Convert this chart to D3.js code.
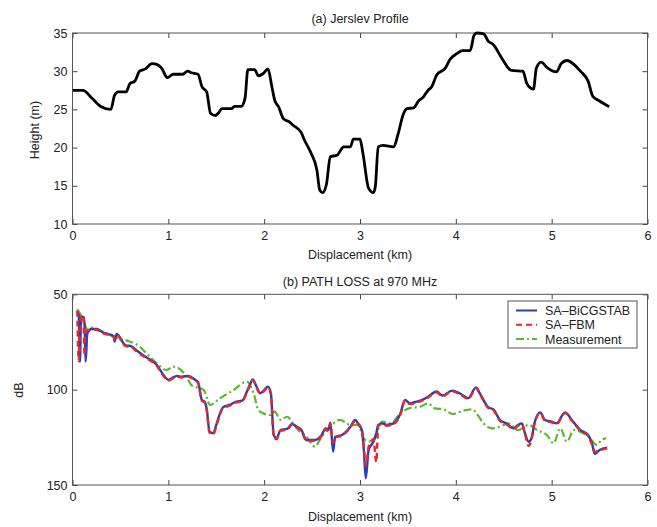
<!DOCTYPE html>
<html>
<head>
<meta charset="utf-8">
<script src="https://cdn.jsdelivr.net/npm/d3@7"></script>
<style>
  body { margin: 0; background: #fff; }
  svg text { font-family: "Liberation Sans", Arial, sans-serif; fill: #222; }
  .axis path { display: none; }
  .axis line { stroke: #444; }
  .axis text { font-size: 12.5px; fill: #222; }
</style>
</head>
<body>
<svg id="chart" width="657" height="527"></svg>
<script>
// (a) terrain profile
var profileKm = [0,0.11,0.20,0.30,0.40,0.44,0.48,0.56,0.60,0.65,0.70,0.76,0.83,0.88,0.93,0.99,1.05,1.15,1.20,1.24,1.31,1.35,1.40,1.44,1.49,1.52,1.56,1.66,1.69,1.76,1.80,1.83,1.90,1.94,1.99,2.04,2.08,2.11,2.15,2.20,2.27,2.30,2.39,2.42,2.49,2.55,2.58,2.61,2.65,2.69,2.76,2.83,2.90,2.93,3.00,3.03,3.09,3.14,3.16,3.19,3.24,3.35,3.40,3.45,3.49,3.56,3.61,3.66,3.71,3.75,3.80,3.89,3.94,4.01,4.07,4.15,4.19,4.22,4.29,4.34,4.39,4.48,4.58,4.70,4.74,4.78,4.81,4.84,4.89,4.95,5.05,5.10,5.16,5.24,5.30,5.38,5.43,5.50,5.60];
var profileHeight = [27.5,27.5,26.5,25.35,25.0,26.9,27.3,27.3,28.4,28.7,30.0,30.3,31.0,30.9,30.4,29.15,29.6,29.6,30.0,29.8,29.6,28.0,27.3,24.5,24.2,24.5,25.1,25.1,25.4,25.4,26.45,30.2,30.2,29.4,29.7,30.3,28.0,26.2,25.35,23.8,23.3,22.95,21.9,21.0,19.25,17.07,14.45,14.1,15.2,18.8,19.0,20.1,20.1,21.1,21.1,19.3,14.67,14.1,14.9,20.1,20.3,20.1,21.9,24.3,25.1,25.2,26.1,26.6,27.5,28.0,29.5,30.4,31.55,32.3,32.7,32.7,34.7,35,34.9,33.9,33.5,31.7,30.1,30.0,28.4,27.8,27.65,30.4,31.2,30.5,29.9,31.0,31.4,30.8,30.0,28.7,26.7,26.1,25.35];

// (b) path loss, both simulations share one distance grid
var simKm = [0.05,0.065,0.078,0.09,0.115,0.125,0.137,0.155,0.20,0.25,0.32,0.43,0.44,0.46,0.55,0.62,0.67,0.77,0.88,0.95,1.00,1.035,1.09,1.14,1.21,1.28,1.31,1.35,1.38,1.40,1.43,1.47,1.50,1.57,1.64,1.71,1.77,1.82,1.85,1.88,1.92,1.96,2.00,2.04,2.07,2.10,2.13,2.17,2.24,2.29,2.34,2.39,2.44,2.53,2.60,2.64,2.67,2.69,2.72,2.74,2.81,2.90,2.95,2.98,3.02,3.04,3.06,3.09,3.14,3.17,3.19,3.23,3.28,3.35,3.42,3.47,3.52,3.59,3.66,3.71,3.80,3.86,3.96,4.04,4.13,4.21,4.25,4.34,4.39,4.46,4.53,4.60,4.65,4.69,4.72,4.76,4.79,4.82,4.88,4.93,5.00,5.05,5.14,5.21,5.30,5.38,5.42,5.45,5.50,5.58];
var bicgstabDb = [59.1,61.0,85.3,61.7,62.0,65,85.3,70.5,68.2,68.2,70.1,71.9,74.8,70.8,76.6,77.4,79.5,83.0,87.1,92.3,94.9,94.1,92.8,93.2,92.8,94.9,96,105.4,106.3,110,122.0,122.9,118.5,109.3,108.0,106.3,105.8,101.0,97.6,94.6,98.4,101.9,100.2,98.4,101.9,123.8,125.5,121.2,120.6,118.0,119.4,121.2,126.4,126.4,123.8,120.3,121.2,117.3,132.5,124.7,123.8,119.4,115.9,117.7,121.2,131.6,146.5,131.6,127.3,122.9,118.5,117.7,118.5,117.7,112.8,105.4,107.2,106.3,105.1,103.7,101.0,103.1,100.5,101.9,104.5,98.8,101.9,109.3,110.3,115.9,117.7,120.3,118.5,117.7,122.6,127.3,125.5,117.7,111.9,115.9,116.8,117.7,111.9,115.9,121.2,123.8,128.1,133.7,131.6,130.4];
var fbmDb = [58.5,85,70,61,62,82,70,69,68.5,68.6,70.5,72.3,73.5,71.2,77.0,77.8,80.0,83.5,87.5,92.8,95.3,94.4,93.2,93.6,93.2,95.3,96.5,105.8,106.8,110.5,122.5,123.4,119.0,109.8,108.4,106.7,106.2,101.4,98.0,95.0,98.8,102.3,100.6,98.8,102.3,125.0,126.0,121.6,121.0,118.4,119.8,121.6,126.8,126.8,124.2,120.7,121.6,117.7,128.0,125.1,124.2,119.8,116.3,118.1,121.6,130.0,140.0,130.0,126.0,138.0,119.0,118.1,118.9,118.1,113.2,105.8,107.6,106.7,105.5,104.1,101.4,103.5,100.9,102.3,104.9,99.2,102.3,109.7,110.7,116.3,118.1,120.7,118.9,118.1,123.0,129.5,126.0,118.1,112.3,116.3,117.2,118.1,112.3,116.3,121.6,124.2,128.8,132.5,131.8,130.8];

// measurement
var measKm = [0.05,0.09,0.165,0.20,0.32,0.44,0.57,0.70,0.77,0.88,0.98,1.05,1.19,1.24,1.37,1.435,1.54,1.68,1.82,1.89,1.94,1.99,2.06,2.11,2.17,2.24,2.30,2.37,2.44,2.53,2.58,2.65,2.72,2.79,2.90,2.98,3.03,3.09,3.16,3.23,3.32,3.42,3.51,3.63,3.71,3.78,3.87,3.97,4.08,4.17,4.22,4.29,4.38,4.46,4.55,4.65,4.76,4.85,4.95,5.02,5.09,5.16,5.23,5.33,5.40,5.47,5.52,5.57];
var measDb = [57.9,61,68.7,67.5,69.6,72.6,74.3,77.4,80.9,86.2,89.7,87.9,93.2,97.6,100.2,108.0,104.5,100.2,95.8,101.9,110.7,112.4,113.3,111.5,115.9,114.2,117.7,122.0,124.7,129.9,126.4,121.2,117.7,115.9,118.5,118.5,124.7,127.3,124.7,116.8,117.7,112.4,109.8,108.9,107.2,109.8,110.3,112.8,111.0,110.3,112.8,117.7,120.3,119.4,117.7,121.2,118.5,121.2,123.8,128.1,120.3,127.3,121.2,122.9,125.5,129.0,126.4,125.5];

var xTicks = [0,1,2,3,4,5,6];
var heightTicks = [10,15,20,25,30,35];
var dbTicks = [50,100,150];
var legendNames = ["SA\u2013BiCGSTAB", "SA\u2013FBM", "Measurement"];

// Axes boxes
var left = 72.5, right = 647.5;
var topA = 33, bottomA = 224;
var topB = 294.3, bottomB = 485;

var svg = d3.select("#chart");

var x = d3.scaleLinear().domain([0, 6]).range([left, right]);
var yA = d3.scaleLinear().domain([10, 35]).range([bottomA, topA]);
var yB = d3.scaleLinear().domain([50, 150]).range([topB, bottomB]);

function drawFrame(y, ticksY, yTop, yBottom) {
    // bottom axis with labels
    svg.append("g").attr("class", "axis")
        .attr("transform", "translate(0," + yBottom + ")")
        .call(d3.axisBottom(x).tickValues(xTicks).tickSizeInner(-5).tickSizeOuter(0).tickPadding(7).tickFormat(d3.format("d")));
    // top axis ticks only
    svg.append("g").attr("class", "axis")
        .attr("transform", "translate(0," + yTop + ")")
        .call(d3.axisTop(x).tickValues(xTicks).tickSizeInner(-5).tickSizeOuter(0).tickFormat(""));
    svg.append("g").attr("class", "axis")
        .attr("transform", "translate(" + left + ",0)")
        .call(d3.axisLeft(y).tickValues(ticksY).tickSizeInner(-5).tickSizeOuter(0).tickPadding(5).tickFormat(d3.format("d")));
    svg.append("g").attr("class", "axis")
        .attr("transform", "translate(" + right + ",0)")
        .call(d3.axisRight(y).tickValues(ticksY).tickSizeInner(-5).tickSizeOuter(0).tickFormat(""));
    svg.append("rect")
        .attr("x", left).attr("y", yTop)
        .attr("width", right - left).attr("height", yBottom - yTop)
        .attr("fill", "none").attr("stroke", "#555").attr("stroke-width", 1);
}

drawFrame(yA, heightTicks, topA, bottomA);
drawFrame(yB, dbTicks, topB, bottomB);

// titles and labels
svg.append("text").attr("x", 360).attr("y", 22.5).attr("text-anchor", "middle")
    .style("font-size", "12.5px").text("(a) Jerslev Profile");
svg.append("text").attr("x", 360).attr("y", 259).attr("text-anchor", "middle")
    .style("font-size", "12.5px").text("Displacement (km)");
svg.append("text").attr("transform", "translate(39,130) rotate(-90)").attr("text-anchor", "middle")
    .style("font-size", "12.5px").text("Height (m)");

svg.append("text").attr("x", 360).attr("y", 286).attr("text-anchor", "middle")
    .style("font-size", "12.5px").text("(b) PATH LOSS at 970 MHz");
svg.append("text").attr("x", 360).attr("y", 521).attr("text-anchor", "middle")
    .style("font-size", "12.5px").text("Displacement (km)");
svg.append("text").attr("transform", "translate(23,390) rotate(-90)").attr("text-anchor", "middle")
    .style("font-size", "12.5px").text("dB");

// clip paths
svg.append("clipPath").attr("id", "clipA").append("rect")
    .attr("x", left).attr("y", topA - 2).attr("width", right - left).attr("height", bottomA - topA + 2);
svg.append("clipPath").attr("id", "clipB").append("rect")
    .attr("x", left).attr("y", topB).attr("width", right - left).attr("height", bottomB - topB);

// terrain line
var lineA = d3.line()
    .x(function(d, i) { return x(profileKm[i]); })
    .y(function(d) { return yA(d); })
    .curve(d3.curveMonotoneX);

svg.append("path")
    .attr("clip-path", "url(#clipA)")
    .attr("d", lineA(profileHeight))
    .attr("fill", "none").attr("stroke", "#000").attr("stroke-width", 2.8)
    .attr("stroke-linejoin", "round");

// path loss lines
function lossLine(kms) {
    return d3.line()
        .x(function(d, i) { return x(kms[i]); })
        .y(function(d) { return yB(d); })
        .curve(d3.curveMonotoneX);
}

var series = [
    {vals: measDb, kms: measKm, color: "#5cb82e", dash: "8,3,2,3", width: 2.2},
    {vals: bicgstabDb, kms: simKm, color: "#2b3fb5", dash: null, width: 2.4},
    {vals: fbmDb, kms: simKm, color: "#e8262b", dash: "6,4", width: 2.4}
];

series.forEach(function(s) {
    svg.append("path")
        .attr("clip-path", "url(#clipB)")
        .attr("d", lossLine(s.kms)(s.vals))
        .attr("fill", "none").attr("stroke", s.color).attr("stroke-width", s.width)
        .attr("stroke-dasharray", s.dash)
        .attr("stroke-linejoin", "round");
});

// legend
var legend = svg.append("g").attr("transform", "translate(508,301)");
legend.append("rect").attr("width", 129).attr("height", 47)
    .attr("fill", "#fff").attr("stroke", "#555").attr("stroke-width", 1);

var legendStyle = [
    {color: "#2b3fb5", dash: null},
    {color: "#e8262b", dash: "6,4"},
    {color: "#5cb82e", dash: "8,3,2,3"}
];

legendNames.forEach(function(name, i) {
    var ly = 9.5 + i * 14.3;
    legend.append("line")
        .attr("x1", 8).attr("x2", 29).attr("y1", ly).attr("y2", ly)
        .attr("stroke", legendStyle[i].color).attr("stroke-width", 2)
        .attr("stroke-dasharray", legendStyle[i].dash);
    legend.append("text")
        .attr("x", 37).attr("y", ly + 4.5)
        .style("font-size", "12.5px").text(name);
});
</script>
</body>
</html>
